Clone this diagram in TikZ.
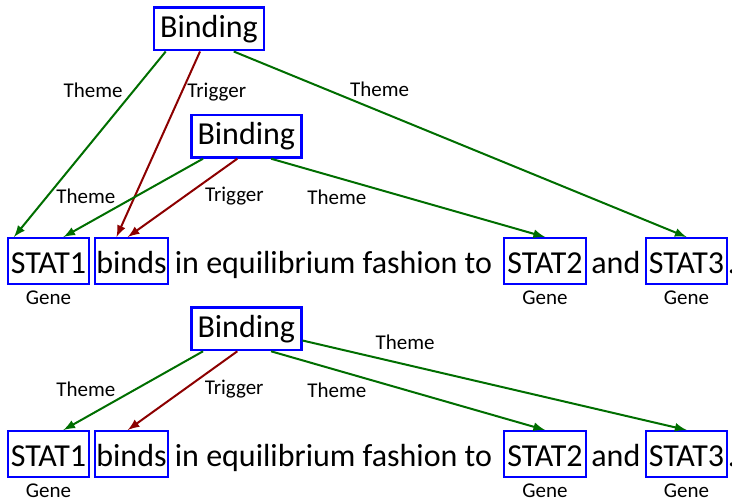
\documentclass[tikz,border=0pt]{standalone}
\usepackage{fontspec}
\setmainfont{Carlito}
\usepackage{tikz}
\usetikzlibrary{positioning,calc}
\definecolor{themegreen}{RGB}{0,110,0}
\definecolor{triggerred}{RGB}{140,0,0}
\newcommand{\wordfont}{\fontsize{16}{19}\selectfont}
\newcommand{\rolefont}{\fontsize{10.5}{12.5}\selectfont}

\begin{document}
\begin{tikzpicture}[x=0.5pt,y=-0.5pt]
    \tikzstyle{word}=[draw=blue,line width=1.2pt,inner sep=0pt,minimum height=22.8pt,text height=12.5pt,text depth=0pt,font=\wordfont]
    \tikzstyle{filler}=[inner sep=1pt,anchor=base west,font=\wordfont]
    \tikzstyle{evbox}=[draw=blue,fill=white,line width=1.2pt,inner sep=0pt,minimum width=55pt,minimum height=21.3pt,text height=10pt,text depth=1.3pt,font=\wordfont]
    \tikzstyle{gene}=[inner sep=1pt,text height=7.5pt,text depth=2pt,font=\rolefont]
    \tikzstyle{role}=[inner sep=1pt,text height=7.5pt,text depth=2pt,font=\rolefont,text=black]
    \tikzstyle{themearc}=[->,>=latex,line width=1pt,color=themegreen]
    \tikzstyle{triggerarc}=[->,>=latex,line width=1pt,color=triggerred]

    \useasboundingbox (0,0) rectangle (732,497);

    \begin{scope}[shift={(0,0)}]

    \node[word,minimum width=40.3pt] (s1a) at (48.5,261) {STAT1};
    \node[word,minimum width=36.3pt] (v1a) at (131.5,261) {binds};
    \node[filler] (w1a) at (172.5,273.5) {in equilibrium fashion to};
    \node[word,minimum width=40.8pt] (s2a) at (545,261) {STAT2};
    \node[filler] (w2a) at (589,273.5) {and};
    \node[word,minimum width=40.3pt] (s3a) at (686.5,261) {STAT3};
    \node[filler] (w3a) at (725.5,273.5) {.};
    \node[gene,below=1pt of s1a] (g1a) {Gene};
    \node[gene,below=1pt of s2a] (g2a) {Gene};
    \node[gene,below=1pt of s3a] (g3a) {Gene};

    \node[evbox] (b1) at (209,29) {Binding};
    \node[evbox] (b2) at (246.3,136.2) {Binding};

    \draw[themearc] ($(b1.south west)!.115!(b1.south east)$) -- ($(s1a.north west)!.084!(s1a.north east)$) node[role,pos=.22,left=3.4pt] (r1) {Theme};
    \draw[triggerarc] ($(b1.south west)!.42!(b1.south east)$) -- ($(v1a.north west)!.30!(v1a.north east)$) node[role,pos=.22,right=1.4pt] (r2) {Trigger};
    \draw[themearc] ($(b1.south west)!.72!(b1.south east)$) -- (s3a.north) node[role,pos=.322,above=3.9pt] (r3) {Theme};

    \draw[themearc] ($(b2.south west)!.115!(b2.south east)$) -- ($(s1a.north west)!.68!(s1a.north east)$) node[role,pos=.50,left=7.5pt] (r4) {Theme};
    \draw[triggerarc] ($(b2.south west)!.42!(b2.south east)$) -- ($(v1a.north west)!.45!(v1a.north east)$) node[role,pos=.48,right=8.7pt] (r5) {Trigger};
    \draw[themearc] ($(b2.south west)!.72!(b2.south east)$) -- (s2a.north) node[role,pos=.24,below=4.7pt] (r6) {Theme};

    \end{scope}


    \begin{scope}[shift={(0,193)}]

    \node[word,minimum width=40.3pt] (s1b) at (48.5,261) {STAT1};
    \node[word,minimum width=36.3pt] (v1b) at (131.5,261) {binds};
    \node[filler] (w1b) at (172.5,273.5) {in equilibrium fashion to};
    \node[word,minimum width=40.8pt] (s2b) at (545,261) {STAT2};
    \node[filler] (w2b) at (589,273.5) {and};
    \node[word,minimum width=40.3pt] (s3b) at (686.5,261) {STAT3};
    \node[filler] (w3b) at (725.5,273.5) {.};
    \node[gene,below=1pt of s1b] (g1b) {Gene};
    \node[gene,below=1pt of s2b] (g2b) {Gene};
    \node[gene,below=1pt of s3b] (g3b) {Gene};

    \node[evbox] (b3) at (246.3,135.8) {Binding};

    \draw[themearc] ($(b3.south west)!.115!(b3.south east)$) -- ($(s1b.north west)!.68!(s1b.north east)$) node[role,pos=.50,left=7.5pt] (r7) {Theme};
    \draw[triggerarc] ($(b3.south west)!.42!(b3.south east)$) -- ($(v1b.north west)!.45!(v1b.north east)$) node[role,pos=.48,right=8.6pt] (r8) {Trigger};
    \draw[themearc] ($(b3.south west)!.72!(b3.south east)$) -- (s2b.north) node[role,pos=.24,below=4.8pt] (r9) {Theme};
    \draw[themearc] ($(b3.north east)!.76!(b3.south east)$) -- (s3b.north) node[role,pos=.267,above=4.1pt] (r10) {Theme};

    \end{scope}

\end{tikzpicture}
\end{document}
